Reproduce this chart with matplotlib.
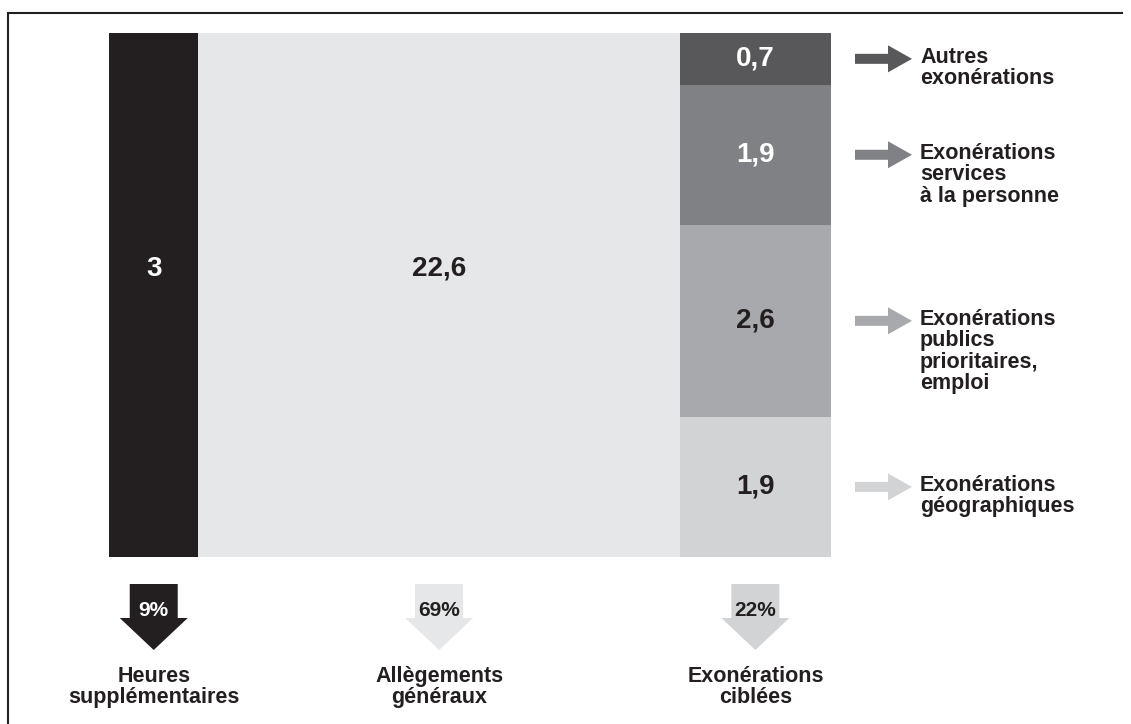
import matplotlib.pyplot as plt
from matplotlib.patches import Polygon

plt.rcParams['font.family'] = ['Liberation Sans', 'DejaVu Sans']

# --- data -------------------------------------------------------------
columns = ['Heures\nsupplémentaires', 'Allègements\ngénéraux', 'Exonérations\nciblées']
totals = [3, 22.6, 7.1]
total_text = ['3', '22,6', None]
shares = ['9%', '69%', '22%']
col_colors = ['#231f20', '#e6e7e8', '#d1d3d4']
share_text_colors = ['white', '#231f20', '#231f20']
total_text_colors = ['white', '#231f20', None]

# targeted exemptions, bottom to top
sub_labels = ['Exonérations\ngéographiques',
              'Exonérations\npublics\nprioritaires,\nemploi',
              'Exonérations\nservices\nà la personne',
              'Autres\nexonérations']
sub_values = [1.9, 2.6, 1.9, 0.7]
sub_text = ['1,9', '2,6', '1,9', '0,7']
sub_colors = ['#d1d3d4', '#a7a9ac', '#808184', '#58585a']
sub_text_colors = ['#231f20', '#231f20', 'white', 'white']

MIN_WIDTH = 4.2  # smallest column is widened so it stays readable

W, H = 1131, 724
fig = plt.figure(figsize=(W / 100, H / 100), dpi=100)

ax = fig.add_axes([109 / W, 1 - 557 / H, 722 / W, 524 / H])
widths = [max(v, MIN_WIDTH) for v in totals]
lefts = [sum(widths[:i]) for i in range(len(widths))]

# first two columns: single blocks
for i in range(2):
    ax.bar(lefts[i], 1, width=widths[i], align='edge', color=col_colors[i],
           linewidth=0)
    ax.text(lefts[i] + widths[i] / 2, 0.55, total_text[i], ha='center',
            va='center', fontsize=20, fontweight='bold',
            color=total_text_colors[i])

# third column: stacked
bottom = 0
seg_centers = []
for v, t, c, tc in zip(sub_values, sub_text, sub_colors, sub_text_colors):
    h = v / totals[2]
    ax.bar(lefts[2], h, width=widths[2], bottom=bottom, align='edge',
           color=c, linewidth=0)
    ax.text(lefts[2] + widths[2] / 2, bottom + h / 2, t, ha='center',
            va='center', fontsize=20, fontweight='bold', color=tc)
    seg_centers.append(bottom + h / 2)
    bottom += h

ax.set_xlim(0, sum(widths))
ax.set_ylim(0, 1)
ax.axis('off')

# --- decoration layer in pixel units (y from top) ----------------------
deco = fig.add_axes([0, 0, 1, 1], zorder=-1)
deco.set_xlim(0, W)
deco.set_ylim(H, 0)
deco.axis('off')


def to_px(x, y):
    dx, dy = ax.transData.transform((x, y))
    return dx, H - dy


deco.plot([8, 8, 1122], [H, 13, 13], color='#231f20', lw=1.5,
          solid_joinstyle='miter')

# arrows under the columns
for i in range(3):
    cx, y0 = to_px(lefts[i] + widths[i] / 2, 0)
    top, neck, tip = y0 + 27, y0 + 61, y0 + 93
    sw, hw = 24, 34
    pts = [(cx - sw, top), (cx + sw, top), (cx + sw, neck), (cx + hw, neck),
           (cx, tip), (cx - hw, neck), (cx - sw, neck)]
    deco.add_patch(Polygon(pts, closed=True, color=col_colors[i], lw=0))
    deco.text(cx, y0 + 54, shares[i], ha='center', va='center', fontsize=15,
              fontweight='bold', color=share_text_colors[i])
    deco.text(cx, y0 + 109, columns[i], ha='center', va='top', fontsize=15.5,
              fontweight='bold', color='#231f20', linespacing=1.03)

# arrows to the right of the stacked column
for yc, lab, c in zip(seg_centers, sub_labels, sub_colors):
    x0, cy = to_px(sum(widths), yc)
    a0, neck, tip = x0 + 24, x0 + 57, x0 + 81
    sh, hh = 5, 13.5
    pts = [(a0, cy - sh), (neck, cy - sh), (neck, cy - hh), (tip, cy),
           (neck, cy + hh), (neck, cy + sh), (a0, cy + sh)]
    deco.add_patch(Polygon(pts, closed=True, color=c, lw=0))
    deco.text(x0 + 89, cy - 12, lab, ha='left', va='top', fontsize=15.5,
              fontweight='bold', color='#231f20', linespacing=1.03)

fig.savefig('out.png', dpi=100)
